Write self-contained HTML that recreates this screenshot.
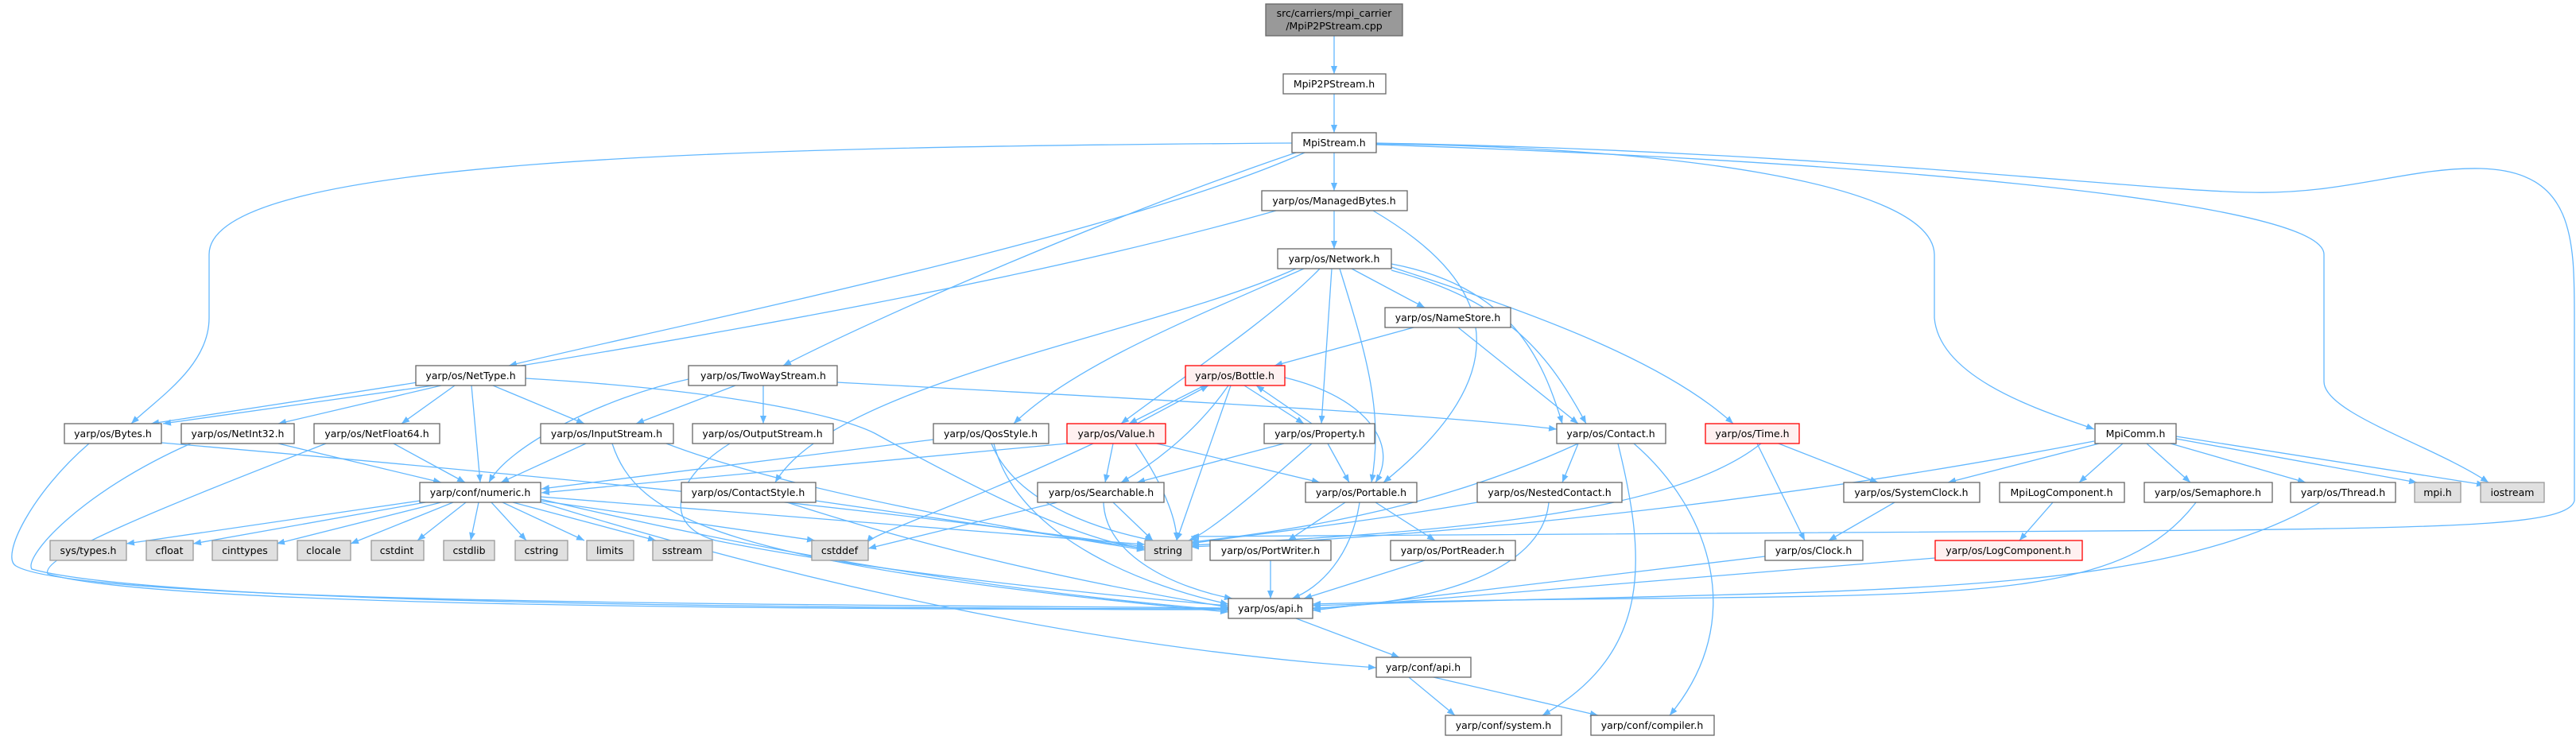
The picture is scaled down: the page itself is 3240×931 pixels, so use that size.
<!DOCTYPE html>
<html><head><meta charset="utf-8"><style>
html,body{margin:0;padding:0;background:#fff;}
svg{display:block;}
text{font-family:"DejaVu Sans","Liberation Sans",sans-serif;font-size:12.5px;fill:#000;text-anchor:middle;}
.e{fill:none;stroke:#63b8ff;stroke-width:1.3;marker-end:url(#a);}
.n{fill:#fff;stroke:#666;stroke-width:1.3;}
.g{fill:#e0e0e0;stroke:#999;stroke-width:1.3;}
.r{fill:#fff0f0;stroke:#ff0000;stroke-width:1.3;}
.t{fill:#999;stroke:#666;stroke-width:1.3;}
</style></head><body>
<svg width="3240" height="931" viewBox="0 0 3240 931" xmlns="http://www.w3.org/2000/svg">
<defs><marker id="a" markerUnits="userSpaceOnUse" markerWidth="11" markerHeight="8" refX="10" refY="4" orient="auto"><path d="M0,0 L10,4 L0,8 z" fill="#63b8ff"/></marker></defs>
<g>
<path class="e" d="M1678,45 L1678,93"/>
<path class="e" d="M1678,118 L1678,167"/>
<path class="e" d="M1678,192 L1678,240"/>
<path class="e" d="M1678,265 L1678,313"/>
<path class="e" d="M1641,192 C1400,300 800,420 640,460"/>
<path class="e" d="M1630,192 C1400,270 1100,400 985,460"/>
<path class="e" d="M1625,180 C900,185 263,200 263,320 L263,400 C263,460 200,500 165,533"/>
<path class="e" d="M1731,181 C2100,185 2430,230 2433,320 L2433,400 C2440,480 2580,520 2634,540"/>
<path class="e" d="M1731,182 C2300,200 2923,250 2923,320 L2923,480 C2923,520 3060,560 3130,607"/>
<path class="e" d="M1731,180 C2300,190 2690,240 2830,242 C2950,245 3030,210 3120,212 C3238,215 3238,300 3238,400 L3238,630 C3230,660 3100,663 2800,667 L1498,675"/>
<path class="e" d="M1605,265 C1200,380 600,470 190,533"/>
<path class="e" d="M1727,265 C1820,320 1960,430 1740,607"/>
<path class="e" d="M1700,338 L1792,387"/>
<path class="e" d="M1778,412 L1603,460"/>
<path class="e" d="M1660,338 C1600,400 1480,480 1410,533"/>
<path class="e" d="M1640,338 C1500,400 1350,460 1275,533"/>
<path class="e" d="M1630,338 C1450,420 1050,480 975,607"/>
<path class="e" d="M1675,338 L1662,533"/>
<path class="e" d="M1685,338 C1720,450 1740,520 1725,607"/>
<path class="e" d="M1750,340 C1900,380 1950,450 1995,533"/>
<path class="e" d="M1750,332 C1900,360 1940,450 1965,533"/>
<path class="e" d="M1750,336 C1950,400 2100,460 2180,533"/>
<path class="e" d="M1834,412 L1985,533"/>
<path class="e" d="M545,485 L205,533"/>
<path class="e" d="M555,485 L350,533"/>
<path class="e" d="M572,485 L505,533"/>
<path class="e" d="M593,485 L604,607"/>
<path class="e" d="M620,485 L735,533"/>
<path class="e" d="M661,476 C900,490 1050,520 1100,545 C1200,600 1350,680 1440,690"/>
<path class="e" d="M925,485 L800,533"/>
<path class="e" d="M960,485 L960,533"/>
<path class="e" d="M866,477 C760,500 640,560 615,607"/>
<path class="e" d="M1053,481 C1400,500 1800,520 1958,540"/>
<path class="e" d="M203,557 C700,600 1100,640 1440,688"/>
<path class="e" d="M112,558 C40,620 0,700 20,712 C100,760 1000,760 1545,765"/>
<path class="e" d="M240,558 C100,620 30,700 40,716 C200,760 1000,765 1545,766"/>
<path class="e" d="M410,558 C200,640 50,700 60,722 C200,764 1000,766 1545,767"/>
<path class="e" d="M350,558 L555,607"/>
<path class="e" d="M495,558 L585,607"/>
<path class="e" d="M737,558 L630,607"/>
<path class="e" d="M770,558 C800,650 900,710 1545,770"/>
<path class="e" d="M838,558 C1000,620 1300,670 1440,692"/>
<path class="e" d="M918,558 C850,600 830,660 900,680 C1100,720 1400,750 1545,762"/>
<path class="e" d="M528,630 L159,684"/>
<path class="e" d="M535,632 L243,684"/>
<path class="e" d="M555,632 L348,684"/>
<path class="e" d="M570,632 L441,684"/>
<path class="e" d="M586,632 L525,680"/>
<path class="e" d="M602,632 L592,680"/>
<path class="e" d="M618,632 L662,680"/>
<path class="e" d="M632,632 L735,680"/>
<path class="e" d="M645,632 L825,680"/>
<path class="e" d="M680,630 L1025,680"/>
<path class="e" d="M680,628 C900,680 1200,740 1545,768"/>
<path class="e" d="M680,632 C900,700 1300,810 1731,840"/>
<path class="e" d="M680,625 L1440,685"/>
<path class="e" d="M990,632 C1200,700 1400,740 1545,764"/>
<path class="e" d="M1026,630 L1440,690"/>
<path class="e" d="M1174,553 L681,615"/>
<path class="e" d="M1247,558 C1280,640 1400,670 1450,680"/>
<path class="e" d="M1250,558 C1280,680 1450,740 1545,760"/>
<path class="e" d="M1342,558 L681,620"/>
<path class="e" d="M1430,533 L1520,485"/>
<path class="e" d="M1515,485 L1420,533"/>
<path class="e" d="M1400,558 L1390,607"/>
<path class="e" d="M1428,558 C1470,620 1480,660 1480,680"/>
<path class="e" d="M1455,558 L1660,607"/>
<path class="e" d="M1375,558 C1200,640 1100,670 1090,683"/>
<path class="e" d="M1565,485 L1640,533"/>
<path class="e" d="M1650,533 L1580,485"/>
<path class="e" d="M1545,485 C1500,550 1440,590 1410,607"/>
<path class="e" d="M1548,485 L1480,680"/>
<path class="e" d="M1616,475 C1720,500 1760,560 1730,607"/>
<path class="e" d="M1615,558 L1430,607"/>
<path class="e" d="M1670,558 L1697,607"/>
<path class="e" d="M1650,558 C1580,620 1520,670 1495,680"/>
<path class="e" d="M1400,632 L1450,680"/>
<path class="e" d="M1388,632 C1390,700 1480,740 1550,753"/>
<path class="e" d="M1330,632 L1092,690"/>
<path class="e" d="M1692,632 L1620,680"/>
<path class="e" d="M1730,632 L1805,680"/>
<path class="e" d="M1710,632 C1700,700 1660,740 1625,753"/>
<path class="e" d="M1598,705 L1598,753"/>
<path class="e" d="M1792,705 L1640,753"/>
<path class="e" d="M1985,558 L1965,607"/>
<path class="e" d="M1985,558 C1850,620 1700,660 1498,682"/>
<path class="e" d="M2035,558 C2070,700 2080,820 1940,900"/>
<path class="e" d="M2055,558 C2150,640 2200,780 2100,900"/>
<path class="e" d="M1948,632 C1940,720 1800,760 1651,765"/>
<path class="e" d="M1858,632 C1700,660 1550,675 1498,684"/>
<path class="e" d="M2237,558 L2362,607"/>
<path class="e" d="M2210,558 L2270,680"/>
<path class="e" d="M2215,558 C2100,650 1800,670 1498,686"/>
<path class="e" d="M2634,555 C2300,620 1900,670 1498,688"/>
<path class="e" d="M2640,558 L2450,607"/>
<path class="e" d="M2670,558 L2615,607"/>
<path class="e" d="M2700,558 L2755,607"/>
<path class="e" d="M2730,558 L2900,607"/>
<path class="e" d="M2737,552 L3040,607"/>
<path class="e" d="M2737,549 L3125,610"/>
<path class="e" d="M2383,632 L2300,680"/>
<path class="e" d="M2582,632 L2540,680"/>
<path class="e" d="M2762,632 C2650,780 2400,740 1651,760"/>
<path class="e" d="M2918,632 C2700,760 2300,740 1651,762"/>
<path class="e" d="M2220,700 L1651,768"/>
<path class="e" d="M2434,702 L1651,766"/>
<path class="e" d="M1630,778 L1760,827"/>
<path class="e" d="M1772,852 L1830,900"/>
<path class="e" d="M1803,852 L2010,900"/>
</g>
<g>
<rect class="t" x="1592" y="5" width="172" height="40"/><text x="1678" y="21">src/carriers/mpi_carrier</text><text x="1678" y="37">/MpiP2PStream.cpp</text>
<rect class="n" x="1614" y="93" width="129" height="25"/><text x="1678" y="110">MpiP2PStream.h</text>
<rect class="n" x="1625" y="167" width="106" height="25"/><text x="1678" y="184">MpiStream.h</text>
<rect class="n" x="1587" y="240" width="183" height="25"/><text x="1678" y="257">yarp/os/ManagedBytes.h</text>
<rect class="n" x="1607" y="313" width="143" height="25"/><text x="1678" y="330">yarp/os/Network.h</text>
<rect class="n" x="1742" y="387" width="158" height="25"/><text x="1821" y="404">yarp/os/NameStore.h</text>
<rect class="r" x="1491" y="460" width="125" height="25"/><text x="1553" y="477">yarp/os/Bottle.h</text>
<rect class="n" x="523" y="460" width="138" height="25"/><text x="592" y="477">yarp/os/NetType.h</text>
<rect class="n" x="866" y="460" width="187" height="25"/><text x="960" y="477">yarp/os/TwoWayStream.h</text>
<rect class="n" x="81" y="533" width="122" height="25"/><text x="142" y="550">yarp/os/Bytes.h</text>
<rect class="n" x="228" y="533" width="142" height="25"/><text x="299" y="550">yarp/os/NetInt32.h</text>
<rect class="n" x="395" y="533" width="158" height="25"/><text x="474" y="550">yarp/os/NetFloat64.h</text>
<rect class="n" x="680" y="533" width="167" height="25"/><text x="763" y="550">yarp/os/InputStream.h</text>
<rect class="n" x="871" y="533" width="177" height="25"/><text x="959" y="550">yarp/os/OutputStream.h</text>
<rect class="n" x="1174" y="533" width="145" height="25"/><text x="1246" y="550">yarp/os/QosStyle.h</text>
<rect class="r" x="1342" y="533" width="124" height="25"/><text x="1404" y="550">yarp/os/Value.h</text>
<rect class="n" x="1590" y="533" width="139" height="25"/><text x="1660" y="550">yarp/os/Property.h</text>
<rect class="n" x="1958" y="533" width="137" height="25"/><text x="2026" y="550">yarp/os/Contact.h</text>
<rect class="r" x="2145" y="533" width="118" height="25"/><text x="2204" y="550">yarp/os/Time.h</text>
<rect class="n" x="2635" y="533" width="102" height="25"/><text x="2686" y="550">MpiComm.h</text>
<rect class="n" x="528" y="607" width="152" height="25"/><text x="604" y="624">yarp/conf/numeric.h</text>
<rect class="n" x="857" y="607" width="169" height="25"/><text x="941" y="624">yarp/os/ContactStyle.h</text>
<rect class="n" x="1305" y="607" width="159" height="25"/><text x="1385" y="624">yarp/os/Searchable.h</text>
<rect class="n" x="1642" y="607" width="140" height="25"/><text x="1712" y="624">yarp/os/Portable.h</text>
<rect class="n" x="1858" y="607" width="182" height="25"/><text x="1949" y="624">yarp/os/NestedContact.h</text>
<rect class="n" x="2319" y="607" width="171" height="25"/><text x="2404" y="624">yarp/os/SystemClock.h</text>
<rect class="n" x="2515" y="607" width="157" height="25"/><text x="2593" y="624">MpiLogComponent.h</text>
<rect class="n" x="2697" y="607" width="161" height="25"/><text x="2777" y="624">yarp/os/Semaphore.h</text>
<rect class="n" x="2881" y="607" width="132" height="25"/><text x="2947" y="624">yarp/os/Thread.h</text>
<rect class="g" x="3037" y="607" width="58" height="25"/><text x="3066" y="624">mpi.h</text>
<rect class="g" x="3120" y="607" width="80" height="25"/><text x="3160" y="624">iostream</text>
<rect class="g" x="63" y="680" width="96" height="25"/><text x="111" y="697">sys/types.h</text>
<rect class="g" x="184" y="680" width="59" height="25"/><text x="213" y="697">cfloat</text>
<rect class="g" x="267" y="680" width="82" height="25"/><text x="308" y="697">cinttypes</text>
<rect class="g" x="374" y="680" width="67" height="25"/><text x="407" y="697">clocale</text>
<rect class="g" x="467" y="680" width="66" height="25"/><text x="499" y="697">cstdint</text>
<rect class="g" x="558" y="680" width="64" height="25"/><text x="590" y="697">cstdlib</text>
<rect class="g" x="648" y="680" width="66" height="25"/><text x="681" y="697">cstring</text>
<rect class="g" x="738" y="680" width="59" height="25"/><text x="767" y="697">limits</text>
<rect class="g" x="821" y="680" width="75" height="25"/><text x="858" y="697">sstream</text>
<rect class="g" x="1021" y="680" width="71" height="25"/><text x="1056" y="697">cstddef</text>
<rect class="g" x="1440" y="680" width="59" height="25"/><text x="1469" y="697">string</text>
<rect class="n" x="1522" y="680" width="152" height="25"/><text x="1598" y="697">yarp/os/PortWriter.h</text>
<rect class="n" x="1749" y="680" width="157" height="25"/><text x="1827" y="697">yarp/os/PortReader.h</text>
<rect class="n" x="2220" y="680" width="123" height="25"/><text x="2281" y="697">yarp/os/Clock.h</text>
<rect class="r" x="2434" y="680" width="185" height="25"/><text x="2526" y="697">yarp/os/LogComponent.h</text>
<rect class="n" x="1545" y="753" width="106" height="25"/><text x="1598" y="770">yarp/os/api.h</text>
<rect class="n" x="1731" y="827" width="119" height="25"/><text x="1790" y="844">yarp/conf/api.h</text>
<rect class="n" x="1818" y="900" width="146" height="25"/><text x="1891" y="917">yarp/conf/system.h</text>
<rect class="n" x="2001" y="900" width="155" height="25"/><text x="2078" y="917">yarp/conf/compiler.h</text>
</g>
</svg>
</body></html>
